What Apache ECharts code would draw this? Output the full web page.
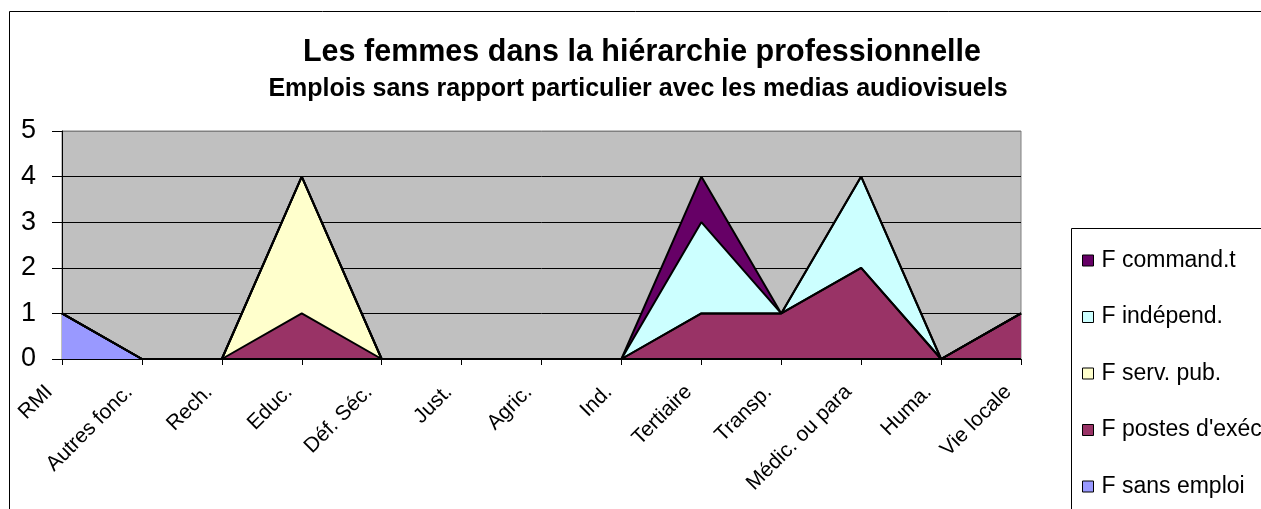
<!DOCTYPE html>
<html>
<head>
<meta charset="utf-8">
<script src="https://cdn.jsdelivr.net/npm/echarts@6/dist/echarts.min.js"></script>
<style>html,body{margin:0;padding:0;background:#fff;}#c{width:1261px;height:509px;}</style>
</head>
<body>
<div id="c"></div>
<script>
var categories = ['RMI', 'Autres fonc.', 'Rech.', 'Educ.', 'Déf. Séc.', 'Just.', 'Agric.', 'Ind.', 'Tertiaire', 'Transp.', 'Médic. ou para', 'Huma.', 'Vie locale'];
var sansEmploi = [1, 0, 0, 0, 0, 0, 0, 0, 0, 0, 0, 0, 0];
var postesExec = [0, 0, 0, 1, 0, 0, 0, 0, 1, 1, 2, 0, 1];
var servPub    = [0, 0, 0, 3, 0, 0, 0, 0, 0, 0, 0, 0, 0];
var independ   = [0, 0, 0, 0, 0, 0, 0, 0, 2, 0, 2, 0, 0];
var commandt   = [0, 0, 0, 0, 0, 0, 0, 0, 1, 0, 0, 0, 0];
var yTicks = [0, 1, 2, 3, 4, 5];

var seriesDefs = [
  {name: 'F sans emploi', data: sansEmploi, color: '#9999FF'},
  {name: "F postes d'exéc.", data: postesExec, color: '#993366'},
  {name: 'F serv. pub.', data: servPub, color: '#FFFFCC'},
  {name: 'F indépend.', data: independ, color: '#CCFFFF'},
  {name: 'F command.t', data: commandt, color: '#660066'}
];
var FONT = 'Arial, "Liberation Sans", sans-serif';
var chart = echarts.init(document.getElementById('c'), null, {renderer: 'canvas'});
chart.setOption({
  backgroundColor: '#ffffff',
  animation: false,
  title: [
    {text: 'Les femmes dans la hiérarchie professionnelle', left: 637, top: 32, textAlign: 'center',
     textStyle: {fontFamily: FONT, fontSize: 30.5, fontWeight: 'bold', color: '#000'}},
    {text: 'Emplois sans rapport particulier avec les medias audiovisuels', left: 633, top: 72, textAlign: 'center',
     textStyle: {fontFamily: FONT, fontSize: 25, fontWeight: 'bold', color: '#000'}}
  ],
  graphic: [
    {type: 'rect', shape: {x: 9.5, y: 11.5, width: 1300, height: 600}, style: {fill: 'none', stroke: '#000', lineWidth: 1}, z: -10},
    {type: 'rect', shape: {x: 1071.5, y: 228.5, width: 300, height: 400}, style: {fill: '#fff', stroke: '#000', lineWidth: 1}, z: -5}
  ],
  legend: {
    orient: 'vertical',
    left: 1077,
    top: 244,
    itemGap: 33.5,
    itemWidth: 11,
    itemHeight: 11,
    icon: 'rect',
    itemStyle: {borderColor: '#000', borderWidth: 1},
    textStyle: {fontFamily: FONT, fontSize: 23, color: '#000', lineHeight: 22, padding: [0, 0, 0, 3]},
    data: ['F command.t', 'F indépend.', 'F serv. pub.', "F postes d'exéc.", 'F sans emploi']
  },
  grid: {left: 62, top: 131, width: 959, height: 228, show: true, backgroundColor: '#C0C0C0', borderColor: '#808080', borderWidth: 1},
  xAxis: {
    type: 'category',
    data: categories,
    boundaryGap: false,
    axisLine: {lineStyle: {color: '#000', width: 1}},
    axisTick: {show: true, length: 6, lineStyle: {color: '#000'}, interval: 0},
    axisLabel: {rotate: 45, interval: 0, fontFamily: FONT, fontSize: 21, color: '#000', margin: 17, padding: [0, 18, 0, 0]},
    splitLine: {show: false}
  },
  yAxis: {
    type: 'value',
    min: yTicks[0],
    max: yTicks[yTicks.length - 1],
    interval: 1,
    axisLine: {show: true, lineStyle: {color: '#000', width: 1}},
    axisTick: {show: true, length: 10, lineStyle: {color: '#000'}},
    axisLabel: {fontFamily: FONT, fontSize: 27, color: '#000', margin: 26},
    splitLine: {show: true, lineStyle: {color: ['#000', '#000', '#000', '#000', '#000', '#808080'], width: 1}}
  },
  series: seriesDefs.map(function (s) {
    return {
      name: s.name,
      type: 'line',
      stack: 'total',
      data: s.data,
      symbol: 'none',
      showSymbol: false,
      color: s.color,
      itemStyle: {color: s.color},
      lineStyle: {color: '#000', width: 2},
      areaStyle: {color: s.color, opacity: 1}
    };
  })
});
</script>
</body>
</html>
